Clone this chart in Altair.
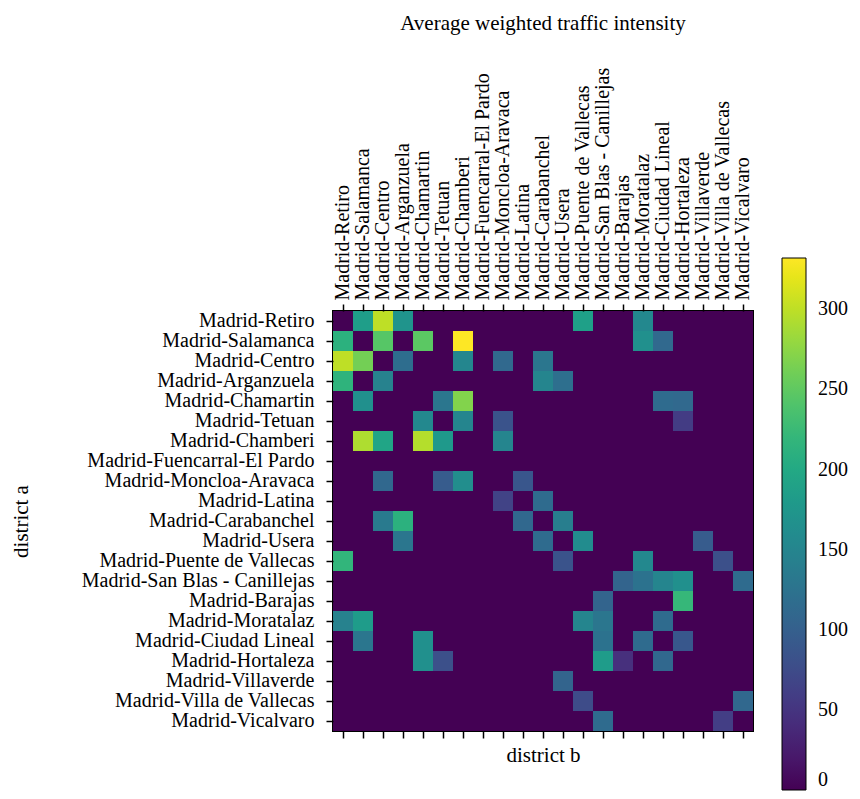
import altair as alt
import pandas as pd

districts = [
    "Madrid-Retiro", "Madrid-Salamanca", "Madrid-Centro", "Madrid-Arganzuela",
    "Madrid-Chamartin", "Madrid-Tetuan", "Madrid-Chamberi",
    "Madrid-Fuencarral-El Pardo", "Madrid-Moncloa-Aravaca", "Madrid-Latina",
    "Madrid-Carabanchel", "Madrid-Usera", "Madrid-Puente de Vallecas",
    "Madrid-San Blas - Canillejas", "Madrid-Barajas", "Madrid-Moratalaz",
    "Madrid-Ciudad Lineal", "Madrid-Hortaleza", "Madrid-Villaverde",
    "Madrid-Villa de Vallecas", "Madrid-Vicalvaro",
]

# non-zero cells: row index (district a), column index (district b), value
row_idx = [0, 0, 0, 0, 0,
           1, 1, 1, 1, 1, 1,
           2, 2, 2, 2, 2, 2,
           3, 3, 3, 3,
           4, 4, 4, 4, 4,
           5, 5, 5, 5,
           6, 6, 6, 6, 6,
           8, 8, 8, 8,
           9, 9,
           10, 10, 10, 10,
           11, 11, 11, 11,
           12, 12, 12, 12,
           13, 13, 13, 13, 13,
           14, 14,
           15, 15, 15, 15, 15,
           16, 16, 16, 16, 16,
           17, 17, 17, 17, 17,
           18,
           19, 19,
           20, 20]
col_idx = [1, 2, 3, 12, 15,
           0, 2, 4, 6, 15, 16,
           0, 1, 3, 6, 8, 10,
           0, 2, 10, 11,
           1, 5, 6, 16, 17,
           4, 6, 8, 17,
           1, 2, 4, 5, 8,
           2, 5, 6, 9,
           8, 10,
           2, 3, 9, 11,
           3, 10, 12, 18,
           0, 11, 15, 19,
           14, 15, 16, 17, 20,
           13, 17,
           0, 1, 12, 13, 16,
           1, 4, 13, 15, 17,
           4, 5, 13, 14, 16,
           11,
           12, 20,
           13, 19]
cell_val = [185, 300, 170, 188, 155,
            212, 245, 248, 332, 165, 112,
            300, 262, 118, 152, 112, 130,
            215, 145, 150, 120,
            165, 130, 270, 115, 112,
            155, 150, 85, 58,
            292, 195, 295, 178, 150,
            110, 95, 162, 88,
            65, 115,
            135, 212, 110, 140,
            130, 115, 160, 95,
            218, 85, 155, 80,
            105, 125, 150, 165, 115,
            105, 222,
            145, 182, 150, 130, 115,
            130, 165, 125, 115, 90,
            165, 80, 182, 45, 110,
            105,
            75, 110,
            115, 60]

lookup = {(r, c): v for r, c, v in zip(row_idx, col_idx, cell_val)}
records = []
for r, a in enumerate(districts):
    for c, b in enumerate(districts):
        records.append({"a": a, "b": b, "v": lookup.get((r, c), 0)})
df = pd.DataFrame(records)

FONT = "Liberation Serif"
FS = 20
W = 420

heat = alt.Chart(df).mark_rect().encode(
    x=alt.X("b:N", sort=districts,
            axis=alt.Axis(orient="top", title=None, labelAngle=-90,
                          labelAlign="left", labelBaseline="middle",
                          tickSize=7, labelPadding=4, domain=False, grid=False,
                          tickColor="black", tickWidth=1.5,
                          labelFont=FONT, labelFontSize=FS,
                          labelColor="black", labelLimit=400)),
    y=alt.Y("a:N", sort=districts,
            axis=alt.Axis(orient="left", title="district a",
                          titleX=-312, titleY=W / 2, titleAngle=-90,
                          titleAlign="center", titleBaseline="middle",
                          titleFont=FONT, titleFontSize=21,
                          titleFontWeight="normal", titleColor="black",
                          tickSize=7, labelPadding=12, domain=False, grid=False,
                          tickColor="black", tickWidth=1.5,
                          labelFont=FONT, labelFontSize=FS,
                          labelColor="black", labelLimit=400)),
    color=alt.Color("v:Q",
                    scale=alt.Scale(scheme="viridis", domain=[0, 332]),
                    legend=alt.Legend(orient="none", legendX=449, legendY=-53,
                                      direction="vertical", title=None,
                                      gradientLength=532, gradientThickness=24,
                                      gradientStrokeColor="black",
                                      gradientStrokeWidth=1,
                                      values=[0, 50, 100, 150, 200, 250, 300],
                                      labelFont=FONT, labelFontSize=20,
                                      labelColor="black", labelOffset=12,
                                      labelOverlap=False)),
)

bottom = alt.Chart(df).mark_rect(opacity=0).encode(
    x=alt.X("b:N", sort=districts,
            axis=alt.Axis(orient="bottom", labels=False, title="district b",
                          titleFont=FONT, titleFontSize=21,
                          titleFontWeight="normal", titleColor="black",
                          tickSize=7, titlePadding=6, domain=False, grid=False,
                          tickColor="black", tickWidth=1.5)),
)

chart = alt.layer(heat, bottom).resolve_axis(x="independent").properties(
    width=W,
    height=W,
    title=alt.TitleParams("Average weighted traffic intensity",
                          font=FONT, fontSize=21, fontWeight="normal",
                          color="black", anchor="middle", offset=33),
    autosize=alt.AutoSizeParams(type="none"),
    padding={"left": 325, "top": 303, "right": 99, "bottom": 70},
).configure_view(stroke="black", strokeWidth=2).configure_axis(grid=False)

chart.save("out.html", embed_options={"renderer": "svg", "actions": False})
